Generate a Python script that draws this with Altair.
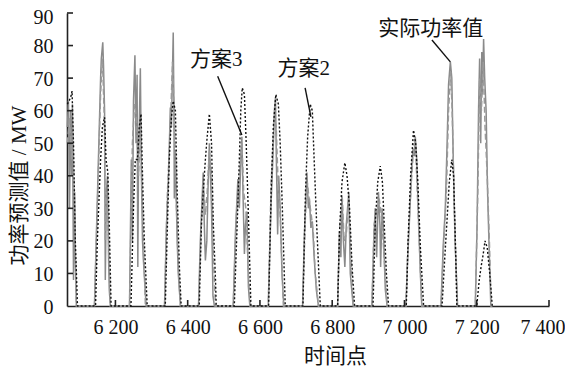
import altair as alt
import pandas as pd

# ---- data (time point, MW), one sub-list per day ----
ACTUAL_T = [
    [6067, 6070, 6073, 6076, 6079, 6081, 6084, 6087, 6089, 6092],
    [6142, 6159, 6161, 6165, 6167, 6170, 6172, 6175, 6178, 6181, 6183, 6186],
    [6239, 6244, 6247, 6250, 6254, 6257, 6260, 6262, 6264, 6266, 6269, 6272, 6275, 6277, 6285],
    [6336, 6341, 6347, 6352, 6355, 6360, 6362, 6363, 6366, 6369, 6371, 6374, 6380],
    [6430, 6435, 6443, 6446, 6449, 6453, 6456, 6460, 6463, 6466, 6470, 6474],
    [6526, 6532, 6539, 6543, 6547, 6550, 6553, 6557, 6560, 6564, 6568, 6572],
    [6623, 6631, 6636, 6640, 6643, 6645, 6649, 6652, 6656, 6661, 6666],
    [6718, 6723, 6730, 6734, 6737, 6741, 6745, 6750, 6756, 6762],
    [6815, 6820, 6824, 6827, 6831, 6835, 6839, 6846, 6850, 6854, 6858],
    [6910, 6915, 6919, 6923, 6928, 6932, 6934, 6938, 6941, 6947, 6952],
    [7004, 7009, 7014, 7019, 7023, 7027, 7030, 7034, 7038, 7044, 7048],
    [7101, 7107, 7113, 7118, 7122, 7127, 7131, 7135, 7140, 7147],
    [7196, 7201, 7205, 7208, 7211, 7214, 7216, 7219, 7222, 7226, 7230, 7235, 7239, 7243],
]
ACTUAL_V = [
    [55, 63, 30, 60, 40, 62, 8, 35, 15, 0],
    [0, 70, 76, 81, 74, 60, 8, 35, 40, 15, 5, 0],
    [0, 45, 20, 63, 77, 50, 71, 12, 45, 55, 73, 40, 20, 15, 0],
    [0, 24, 40, 61, 55, 84, 60, 33, 48, 30, 20, 10, 0],
    [0, 20, 41, 25, 14, 20, 35, 50, 40, 30, 3, 0],
    [0, 22, 39, 30, 45, 52, 35, 16, 25, 29, 6, 0],
    [0, 32, 46, 60, 64, 48, 22, 40, 30, 10, 0],
    [0, 22, 41, 30, 33, 24, 26, 15, 5, 0],
    [0, 23, 15, 34, 20, 12, 25, 35, 10, 5, 0],
    [0, 20, 30, 15, 35, 25, 12, 30, 25, 5, 0],
    [0, 15, 27, 40, 48, 46, 52, 45, 30, 10, 0],
    [0, 18, 30, 50, 68, 75, 70, 45, 20, 0],
    [0, 25, 60, 76, 50, 78, 65, 82, 70, 60, 35, 15, 0, 0],
]

PLAN2_T = [
    [6067, 6076, 6080, 6084, 6089, 6095],
    [6145, 6150, 6159, 6164, 6170, 6174, 6179, 6183, 6188],
    [6243, 6250, 6255, 6261, 6266, 6271, 6275, 6280, 6288],
    [6338, 6344, 6349, 6355, 6360, 6366, 6371, 6377, 6382],
    [6432, 6438, 6443, 6449, 6454, 6460, 6466, 6471, 6477, 6479],
    [6529, 6537, 6543, 6547, 6551, 6557, 6562, 6568, 6575],
    [6624, 6631, 6637, 6644, 6651, 6656, 6662, 6670],
    [6719, 6726, 6732, 6739, 6745, 6750, 6757, 6763, 6767],
    [6815, 6820, 6827, 6835, 6841, 6848, 6855, 6862],
    [6913, 6919, 6926, 6933, 6939, 6944, 6950, 6956],
    [7005, 7010, 7017, 7025, 7031, 7037, 7044, 7053],
    [7104, 7110, 7117, 7124, 7131, 7136, 7142, 7145],
    [7200, 7207, 7212, 7218, 7223, 7229, 7236, 7243],
]
PLAN2_V = [
    [62, 64, 66, 50, 20, 0],
    [0, 20, 45, 55, 58, 45, 41, 25, 0],
    [0, 30, 45, 45, 55, 59, 40, 20, 0],
    [0, 25, 45, 58, 63, 60, 35, 12, 0],
    [0, 25, 35, 45, 52, 59, 50, 25, 8, 0],
    [0, 25, 45, 60, 67, 65, 50, 28, 0],
    [0, 35, 55, 65, 62, 50, 30, 0],
    [0, 35, 52, 62, 60, 45, 25, 10, 0],
    [0, 22, 38, 44, 40, 30, 12, 0],
    [0, 25, 38, 43, 38, 25, 10, 0],
    [0, 20, 40, 54, 50, 38, 18, 0],
    [0, 12, 25, 38, 45, 40, 15, 0],
    [0, 8, 12, 16, 20, 18, 10, 0],
]

PLAN3_T = [
    [6067, 6073, 6079, 6082, 6087, 6092],
    [6142, 6159, 6164, 6170, 6172, 6175, 6181, 6186],
    [6239, 6247, 6253, 6258, 6264, 6269, 6275, 6283],
    [6336, 6344, 6352, 6358, 6363, 6369, 6374, 6380],
    [6430, 6438, 6443, 6449, 6454, 6460, 6466, 6471, 6477],
    [6526, 6535, 6543, 6550, 6555, 6561, 6568, 6573],
    [6623, 6631, 6640, 6645, 6651, 6656, 6665],
    [6718, 6726, 6731, 6737, 6742, 6748, 6753, 6762],
    [6815, 6821, 6828, 6833, 6839, 6845, 6850, 6858],
    [6910, 6916, 6925, 6930, 6936, 6941, 6952],
    [7004, 7010, 7019, 7026, 7031, 7038, 7048],
    [7101, 7109, 7116, 7122, 7128, 7132, 7138, 7146],
    [7196, 7203, 7208, 7213, 7218, 7223, 7229, 7235, 7240, 7243],
]
PLAN3_V = [
    [50, 58, 45, 55, 30, 0],
    [0, 65, 76, 55, 20, 35, 20, 0],
    [0, 50, 62, 58, 40, 55, 30, 0],
    [0, 35, 55, 75, 58, 30, 12, 0],
    [0, 25, 38, 28, 35, 48, 40, 15, 0],
    [0, 28, 40, 50, 35, 30, 10, 0],
    [0, 38, 58, 55, 35, 28, 0],
    [0, 28, 38, 32, 28, 22, 10, 0],
    [0, 25, 33, 20, 22, 32, 20, 0],
    [0, 25, 30, 33, 28, 20, 0],
    [0, 20, 38, 50, 48, 28, 0],
    [0, 20, 35, 60, 72, 60, 30, 0],
    [0, 35, 70, 60, 75, 55, 40, 20, 0, 0],
]

X_TICKS = [6200, 6400, 6600, 6800, 7000, 7200, 7400]
Y_TICKS = [10, 20, 30, 40, 50, 60, 70, 80, 90]
Y_LABELS = [0, 10, 20, 30, 40, 50, 60, 70, 80, 90]
X_DOMAIN = [6066, 7400]
Y_DOMAIN = [0, 90]

# annotations: label, text position, leader line start/end (data units)
ANN_LABEL = ["方案3", "方案2", "实际功率值"]
ANN_TX = [6479, 6721, 7073]
ANN_TY = [75.6, 72.8, 85.2]
ANN_X1 = [6483, 6725, 7076]
ANN_Y1 = [70.6, 67.0, 81.7]
ANN_X2 = [6550, 6741, 7127]
ANN_Y2 = [52.5, 58.1, 75.0]


def flatten(ts, vs, name):
    rows = []
    for dt, dv in zip(ts, vs):
        assert len(dt) == len(dv), (name, dt, dv)
        for t, v in zip(dt, dv):
            rows.append({"t": t, "v": v})
    return pd.DataFrame(rows)


df_act = flatten(ACTUAL_T, ACTUAL_V, "act")
df_p2 = flatten(PLAN2_T, PLAN2_V, "p2")
df_p3 = flatten(PLAN3_T, PLAN3_V, "p3")

SERIF = "Liberation Serif, Noto Sans CJK SC"

xs = alt.Scale(domain=X_DOMAIN, nice=False, zero=False)
ys = alt.Scale(domain=Y_DOMAIN, nice=False)

x_axis = alt.Axis(
    values=X_TICKS,
    labelExpr="replace(format(datum.value, ','), ',', ' ')",
    tickSize=0,
    labelPadding=11,
    labelFontSize=20,
    labelFont="Liberation Serif",
    labelColor="#111",
    labelBaseline="top",
    labelOverlap=False,
    labelFlush=True,
    labelFlushOffset=16,
    title="时间点",
    titleFont=SERIF,
    titleFontSize=21,
    titleFontWeight="normal",
    titleColor="#111",
    titleX=268,
    titleY=50,
    titleAlign="center",
    titleBaseline="middle",
    domainColor="#222",
    domainWidth=1.6,
    grid=False,
)
y_axis = alt.Axis(
    values=Y_LABELS,
    tickSize=0,
    labelPadding=14,
    labelOffset={"condition": {"test": "datum.value >= 90", "value": 4}, "value": 1},
    labelFontSize=20,
    labelFont="Liberation Serif",
    labelColor="#111",
    labelOverlap=False,
    labelFlush=False,
    title="功率预测值 / MW",
    titleFont=SERIF,
    titleFontSize=21,
    titleFontWeight="normal",
    titleColor="#111",
    titleAngle=270,
    titleX=-48,
    titleY=172,
    titleAlign="center",
    titleBaseline="middle",
    domainColor="#222",
    domainWidth=1.6,
    grid=False,
)


def X(field):
    return alt.X(field, scale=xs, axis=x_axis, title="时间点")


def Y(field):
    return alt.Y(field, scale=ys, axis=y_axis, title="功率预测值 / MW")


actual = alt.Chart(df_act).mark_line(color="#8a8a8a", strokeWidth=1.5).encode(
    x=X("t:Q"), y=Y("v:Q"), order="t:Q"
)
plan3 = alt.Chart(df_p3).mark_line(color="#9a9a9a", strokeWidth=1.5, strokeDash=[6, 3]).encode(
    x=X("t:Q"), y=Y("v:Q"), order="t:Q"
)
plan2 = alt.Chart(df_p2).mark_line(color="#111", strokeWidth=1.4, strokeDash=[2, 2]).encode(
    x=X("t:Q"), y=Y("v:Q"), order="t:Q"
)

xt = alt.Chart(pd.DataFrame({"t": X_TICKS})).mark_rule(color="#222", strokeWidth=1.6).encode(
    x=X("t:Q"), y=alt.value(293), y2=alt.value(287)
)
yt = alt.Chart(pd.DataFrame({"v": Y_TICKS})).mark_rule(color="#222", strokeWidth=1.6).encode(
    y=Y("v:Q"), x=alt.value(0), x2=alt.value(6)
)

ann = pd.DataFrame({
    "label": ANN_LABEL, "tx": ANN_TX, "ty": ANN_TY,
    "x1": ANN_X1, "y1": ANN_Y1, "x2": ANN_X2, "y2": ANN_Y2,
})
leaders = alt.Chart(ann).mark_rule(color="#111", strokeWidth=1.4).encode(
    x=X("x1:Q"), y=Y("y1:Q"), x2="x2:Q", y2="y2:Q"
)
labels = alt.Chart(ann).mark_text(
    font=SERIF, fontSize=21, color="#111", align="center", baseline="middle"
).encode(x=X("tx:Q"), y=Y("ty:Q"), text="label:N")

chart = alt.layer(actual, plan3, plan2, xt, yt, leaders, labels).properties(
    width=482,
    height=293,
    autosize="none",
    padding={"left": 59, "top": 5, "right": 16, "bottom": 60},
).configure_view(stroke="transparent")

chart.save("out.html", embed_options={"renderer": "svg", "actions": False})
